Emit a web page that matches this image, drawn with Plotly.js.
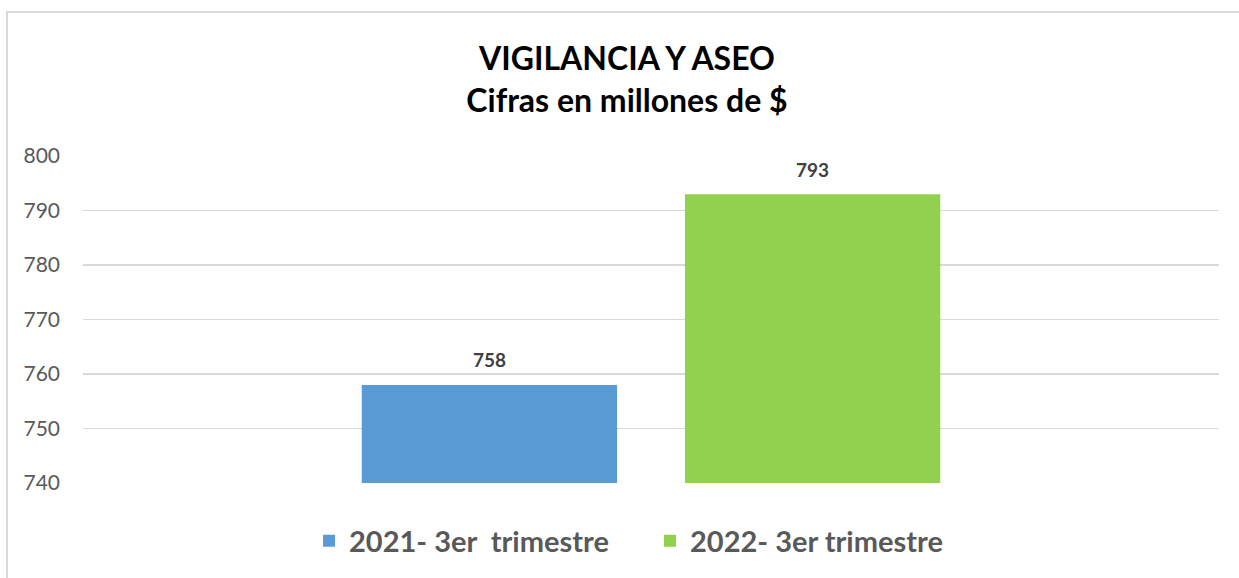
<!DOCTYPE html>
<html>
<head>
<meta charset="utf-8">
<script src="https://cdn.plot.ly/plotly-3.0.1.min.js"></script>
<style>html,body{margin:0;padding:0;background:#fff;}#chart{width:1239px;height:578px;}</style>
</head>
<body>
<div id="chart"></div>
<script>
const categories = ["3er trimestre"];
const seriesNames = ["2021- 3er  trimestre", "2022- 3er trimestre"];
const values2021 = [758];
const values2022 = [793];
const seriesColors = ["#5B9BD5", "#92D050"];
const tickVals = [740, 750, 760, 770, 780, 790, 800];

const allValues = [values2021, values2022];
const traces = allValues.map((vals, i) => ({
  type: "bar",
  name: seriesNames[i],
  x: categories,
  y: vals,
  marker: {color: seriesColors[i]},
  hoverinfo: "none"
}));

const offsets = [-161.5, 161.5];
const annotations = [];
allValues.forEach((vals, i) => {
  vals.forEach((v, j) => {
    annotations.push({
      x: categories[j], y: v, xref: "x", yref: "y",
      text: "<b>" + v + "</b>", showarrow: false,
      xshift: offsets[i], yshift: 25, yanchor: "middle",
      font: {family: "Lato, 'Open Sans', sans-serif", size: 19, color: "#404040"}
    });
  });
});

const layout = {
  width: 1239, height: 578,
  margin: {l: 83, r: 20, t: 156, b: 95},
  paper_bgcolor: "#fff", plot_bgcolor: "#fff",
  title: {
    text: "<b>VIGILANCIA Y ASEO<br>Cifras en millones de $</b>",
    x: 627 / 1239, xanchor: "center", xref: "container",
    y: 1 - 70 / 578, yanchor: "middle", yref: "container",
    font: {family: "Lato, 'Open Sans', sans-serif", size: 32, color: "#000"}
  },
  barmode: "group",
  bargap: 0.431,
  bargroupgap: 0.21,
  xaxis: {showticklabels: false, showgrid: false, zeroline: false, showline: false, ticks: ""},
  yaxis: {
    range: [740, 800], tickvals: tickVals, ticktext: tickVals.map(String),
    showgrid: true, gridcolor: "#D9D9D9", gridwidth: 1.5,
    zeroline: false, showline: false, ticks: "",
    ticklabelstandoff: 22,
    tickfont: {family: "Lato, 'Open Sans', sans-serif", size: 21, color: "#595959"}
  },
  showlegend: true,
  legend: {
    orientation: "h", x: 309 / 1239, xref: "container", xanchor: "left",
    y: 1 - 541 / 578, yref: "container", yanchor: "middle",
    font: {family: "Lato, 'Open Sans', sans-serif", size: 29, color: "#595959", weight: "bold"},
    itemwidth: 30, tracegroupgap: 0, entrywidth: 296, entrywidthmode: "pixels"
  },
  annotations: annotations,
  shapes: [{
    type: "rect", xref: "paper", yref: "paper",
    x0: (7 - 83) / 1136, x1: (1260 - 83) / 1136,
    y0: (483 - 600) / 327, y1: (483 - 12) / 327,
    line: {color: "#D9D9D9", width: 2}, fillcolor: "rgba(0,0,0,0)", layer: "below"
  }]
};

Plotly.newPlot("chart", traces, layout, {displayModeBar: false, staticPlot: true});
</script>
</body>
</html>
